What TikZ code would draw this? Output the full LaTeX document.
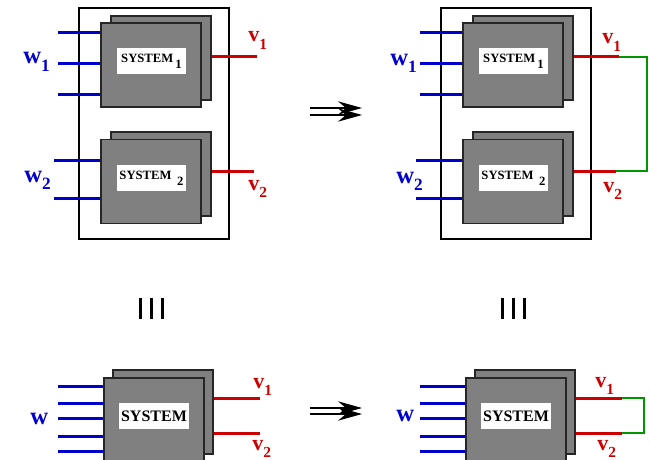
\documentclass[tikz,border=0pt]{standalone}
\usepackage{fontspec}
\setmainfont{Liberation Serif}
\usetikzlibrary{arrows.meta}

\definecolor{wireblue}{RGB}{0,0,204}
\definecolor{wirered}{RGB}{204,0,0}
\definecolor{wiregreen}{RGB}{0,150,0}
\definecolor{boxgray}{RGB}{128,128,128}

\newcommand{\sig}[2]{#1\raisebox{-0.32em}{\scalebox{0.7}{#2}}}

\begin{document}
\begin{tikzpicture}[x=0.75pt, y=-0.75pt,
  frame/.style={draw, line width=1.5pt, minimum width=112.5pt, minimum height=173.25pt, inner sep=0pt},
  sysbox/.style={draw=black!85, line width=1.1pt, fill=boxgray, minimum width=75pt, minimum height=63pt, inner sep=0pt},
  tag/.style={fill=white, minimum width=51.75pt, minimum height=19.5pt, inner sep=0pt, font=\fontsize{9.5}{10}\selectfont\bfseries},
  win/.style={draw=wireblue, line width=2.25pt},
  vout/.style={draw=wirered, line width=2.25pt},
  link/.style={draw=wiregreen, line width=1.5pt},
  sigw/.style={text=wireblue, anchor=base west, inner sep=0pt, font=\fontsize{18.5}{18}\selectfont\bfseries},
  sigv/.style={text=wirered, anchor=base west, inner sep=0pt, font=\fontsize{16.5}{16}\selectfont\bfseries},
  shaft/.style={line width=0.8pt, -{Stealth[length=18pt, width=10pt, inset=6pt]}},
  bar/.style={line width=2.25pt}]
\useasboundingbox (0,0) rectangle (650,460);

% Two systems in a frame, left as is, right interconnected
\foreach \side/\dx in {L/0,R/362} {
  \begin{scope}[xshift=\dx*0.75pt]
    \node (\side-frame) [frame] at (154,123.5) {};
    \node (\side-b1) [sysbox] at (161,58) {};
    \node (\side-s1) [sysbox] at (151,65) {};
    \node (\side-t1) [tag] at (151.5,61.5) {SYSTEM\,\raisebox{-0.45em}{1}};
    \node (\side-b2) [sysbox] at (161,174) {};
    \node (\side-s2) [sysbox] at (151,181.5) {};
    \node (\side-t2) [tag] at (151.5,178) {SYSTEM\;\,\raisebox{-0.45em}{2}};
    % inputs
    \foreach \y in {33,64,95} {
      \coordinate (\side-wa\y) at (58,\y);
      \draw[win] (\side-wa\y) -- (\side-wa\y -| \side-s1.west);
    }
    \foreach \y in {160,198} {
      \coordinate (\side-wb\y) at (54,\y);
      \draw[win] (\side-wb\y) -- (\side-wb\y -| \side-s2.west);
    }
    % outputs
    \coordinate (\side-v1) at (257,57);
    \coordinate (\side-v2) at (254,171);
    \draw[vout] (\side-b1.east |- \side-v1) -- (\side-v1);
    \draw[vout] (\side-b2.east |- \side-v2) -- (\side-v2);
  \end{scope}
}
\draw[link] (R-v1) -- ++(28,0) |- (R-v2);

\node (Lw1) [sigw] at (23,64) {\sig{w}{1}};
\node (Lw2) [sigw] at (24,182) {\sig{w}{2}};
\node (Lv1) [sigv] at (248,42) {\sig{v}{1}};
\node (Lv2) [sigv] at (248,190) {\sig{v}{2}};
\node (Rw1) [sigw] at (390,65) {\sig{w}{1}};
\node (Rw2) [sigw] at (396,183) {\sig{w}{2}};
\node (Rv1) [sigv] at (602,44) {\sig{v}{1}};
\node (Rv2) [sigv] at (603,192) {\sig{v}{2}};

% One system with the same behaviour
\foreach \side/\dx in {L/0,R/362} {
  \begin{scope}[xshift=\dx*0.75pt]
    \node (\side-bb) [sysbox] at (163,412) {};
    \node (\side-bs) [sysbox] at (154,420) {};
    \node (\side-bt) [tag, minimum width=52.5pt, font=\fontsize{12}{12}\selectfont\bfseries] at (154,416) {SYSTEM};
    \foreach \y in {386,403,418,436,451} {
      \coordinate (\side-wc\y) at (58,\y);
      \draw[win] (\side-wc\y) -- (\side-wc\y -| \side-bs.west);
    }
    \coordinate (\side-u1) at (260,398);
    \coordinate (\side-u2) at (260,433);
    \draw[vout] (\side-bb.east |- \side-u1) -- (\side-u1);
    \draw[vout] (\side-bb.east |- \side-u2) -- (\side-u2);
    % equivalence bars
    \foreach \x in {140,151,162} \draw[bar] (\x,298) -- (\x,319);
  \end{scope}
}
\draw[link] (R-u1) -- ++(22,0) |- (R-u2);

\node (Lw) [sigw] at (30,424) {w};
\node (Lu1) [sigv] at (253,388) {\sig{v}{1}};
\node (Lu2) [sigv] at (252,450) {\sig{v}{2}};
\node (Rw) [sigw] at (396,421) {w};
\node (Ru1) [sigv] at (595,387) {\sig{v}{1}};
\node (Ru2) [sigv] at (597,450) {\sig{v}{2}};

% implication arrows
\coordinate (a1s) at (310,108); \coordinate (a1e) at (362,108);
\coordinate (a2s) at (310,115); \coordinate (a2e) at (362,115);
\coordinate (a3s) at (310,408); \coordinate (a3e) at (362,408);
\coordinate (a4s) at (310,414); \coordinate (a4e) at (362,414);
\draw[shaft] (a1s) -- (a1e);
\draw[shaft] (a2s) -- (a2e);
\draw[shaft] (a3s) -- (a3e);
\draw[shaft] (a4s) -- (a4e);
\end{tikzpicture}
\end{document}
